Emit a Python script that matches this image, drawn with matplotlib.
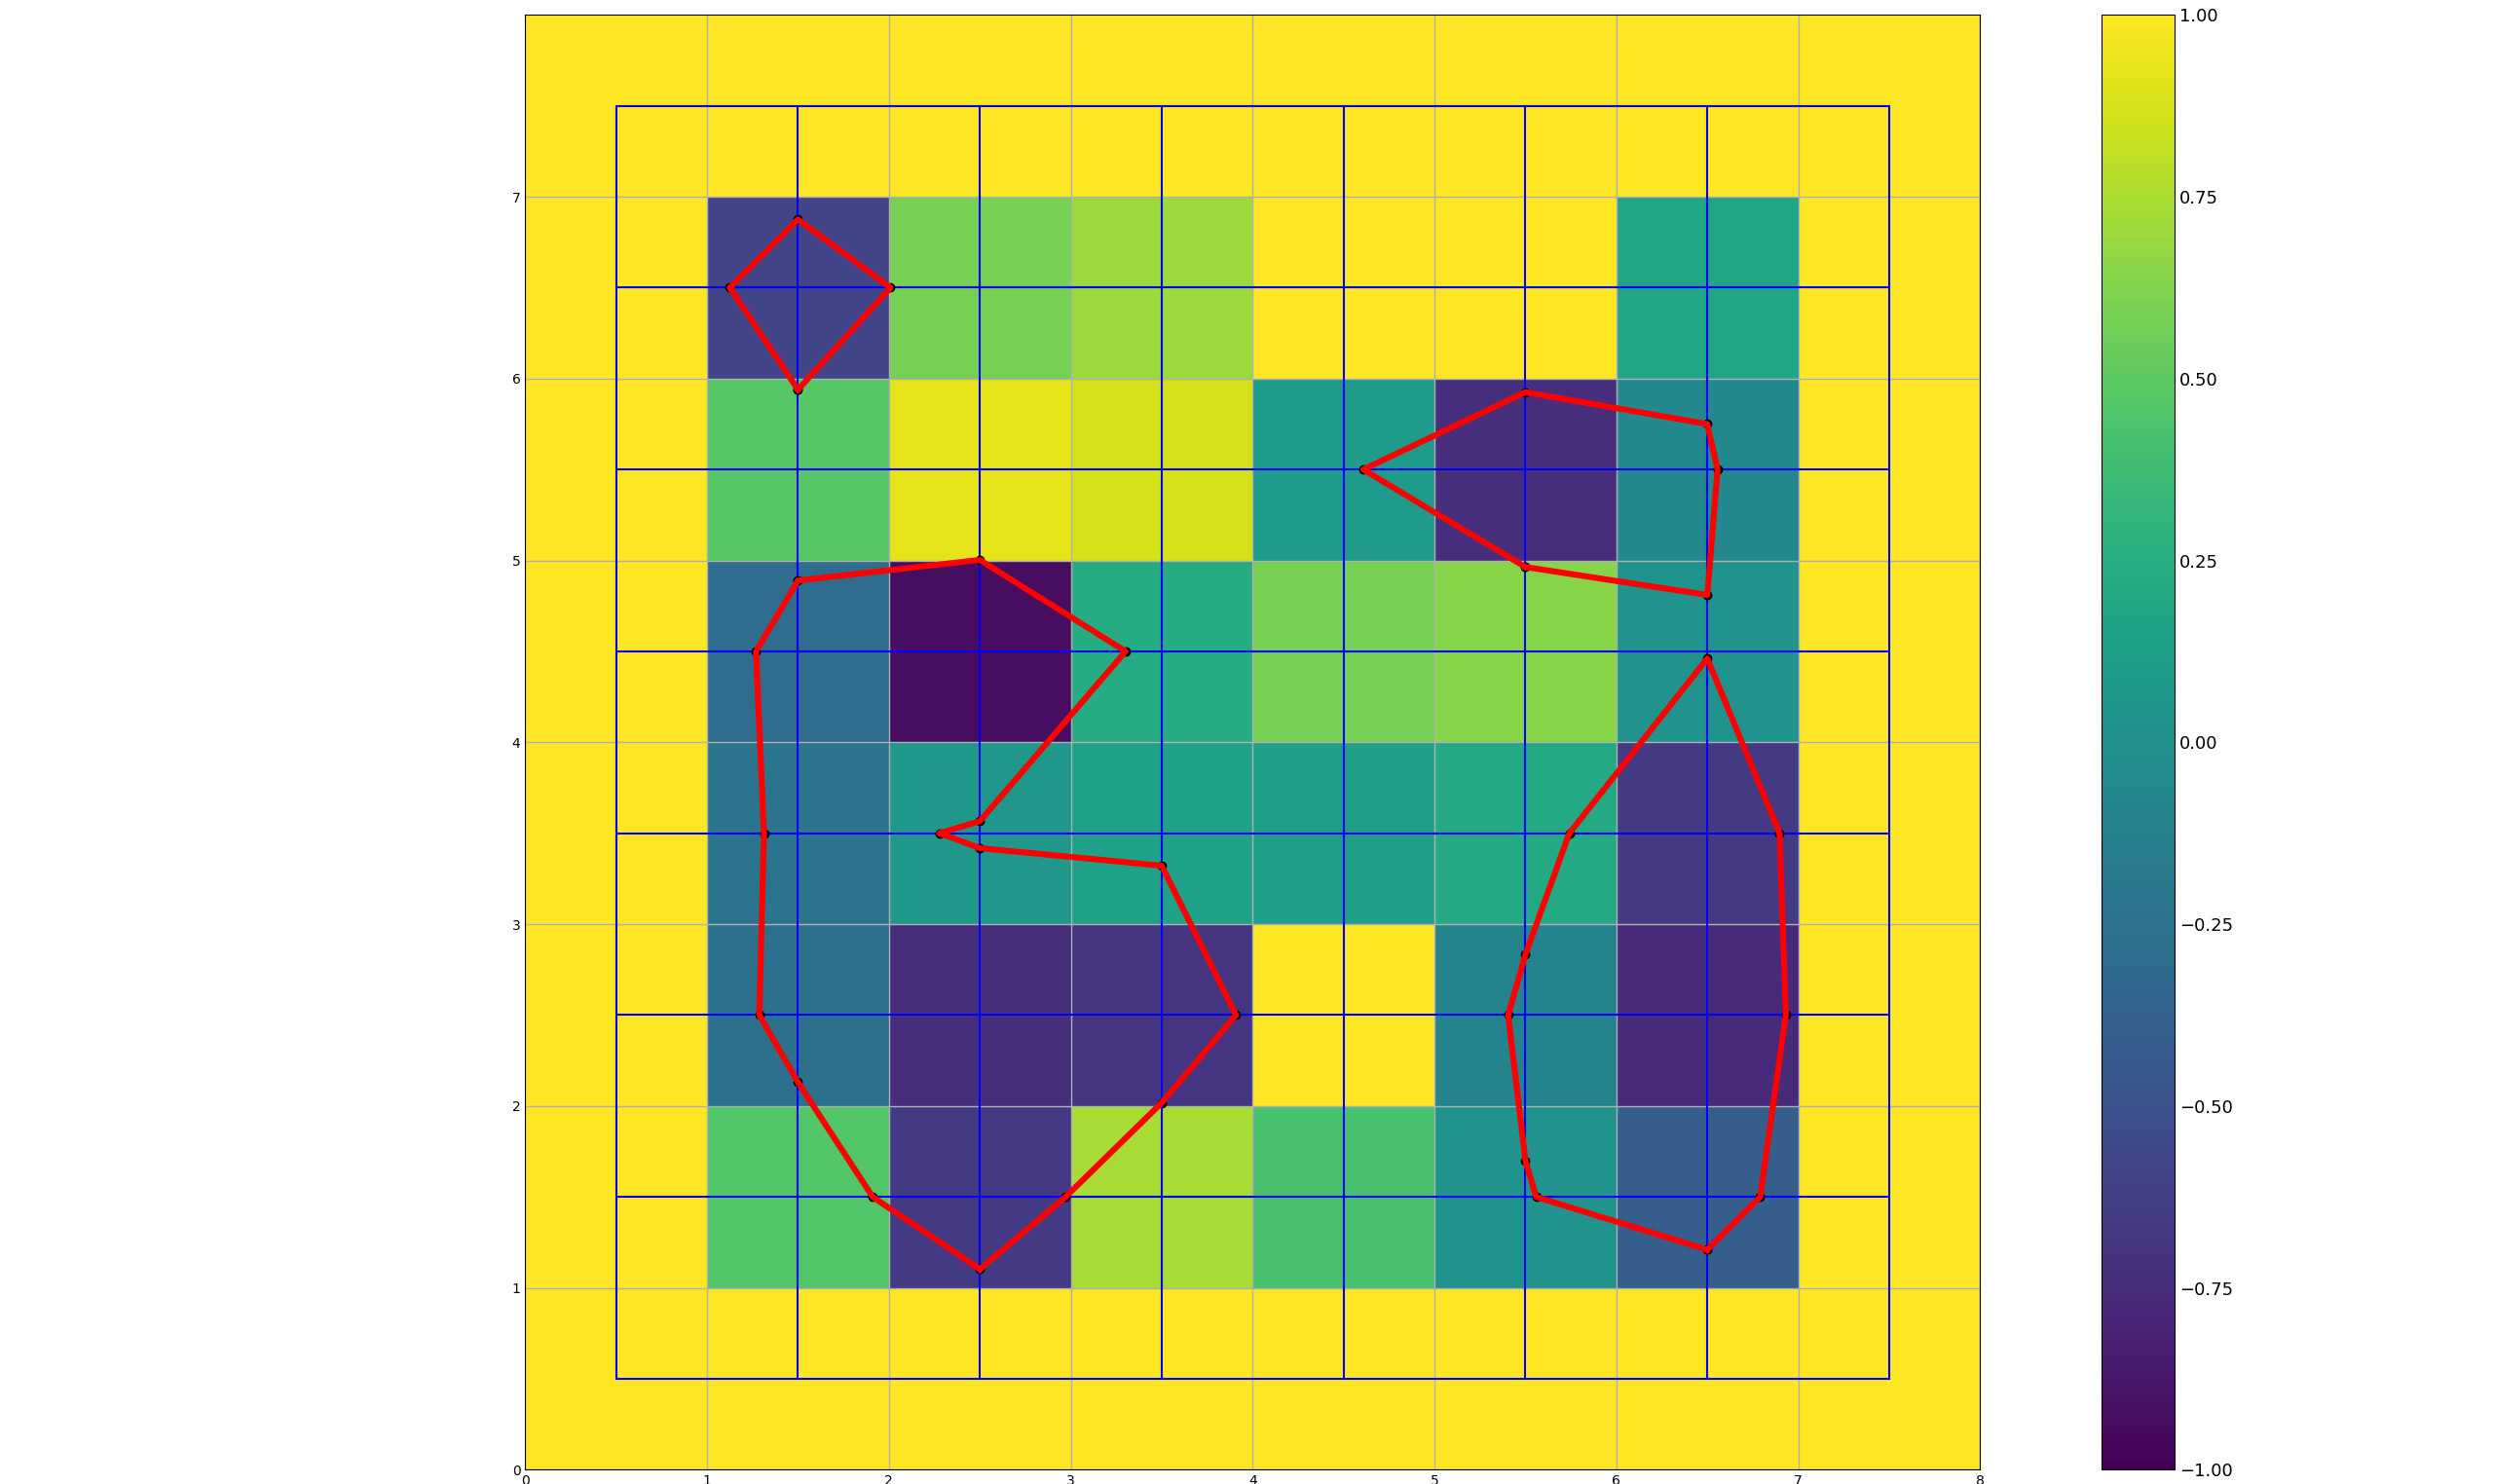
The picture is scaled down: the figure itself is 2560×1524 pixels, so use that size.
import numpy as np
import matplotlib
matplotlib.use("Agg")
import matplotlib.pyplot as plt
import contourpy

# grid values at cell centres, rows from bottom (y=0.5) to top (y=7.5)
row_0 = [1.0, 1.0, 1.0, 1.0, 1.0, 1.0, 1.0, 1.0]
row_1 = [1.0, 0.46, -0.66, 0.74, 0.42, 0.026, -0.41, 1.0]
row_2 = [1.0, -0.27, -0.74, -0.69, 1.0, -0.105, -0.76, 1.0]
row_3 = [1.0, -0.23, 0.066, 0.15, 0.12, 0.21, -0.66, 1.0]
row_4 = [1.0, -0.30, -0.93, 0.23, 0.58, 0.64, 0.027, 1.0]
row_5 = [1.0, 0.47, 0.92, 0.87, 0.09, -0.74, -0.06, 1.0]
row_6 = [1.0, -0.60, 0.58, 0.70, 1.0, 1.0, 0.18, 1.0]
row_7 = [1.0, 1.0, 1.0, 1.0, 1.0, 1.0, 1.0, 1.0]

cell_edges = [0, 1, 2, 3, 4, 5, 6, 7, 8]
centres = [0.5, 1.5, 2.5, 3.5, 4.5, 5.5, 6.5, 7.5]
x_ticks = [0, 1, 2, 3, 4, 5, 6, 7, 8]
y_ticks = [0, 1, 2, 3, 4, 5, 6, 7]
contour_level = 0.0

Z = np.array([row_0, row_1, row_2, row_3, row_4, row_5, row_6, row_7])

W, H = 2560, 1524
fig = plt.figure(figsize=(W / 100, H / 100), dpi=100)

ax = fig.add_axes([539.3 / W, (H - 1509.3) / H, 1494 / W, 1494 / H])
cax = fig.add_axes([2158.3 / W, (H - 1509.3) / H, 75 / W, 1494 / H])

mesh = ax.pcolormesh(cell_edges, cell_edges, Z, cmap="viridis", vmin=-1, vmax=1, zorder=0.5)
ax.set_xlim(0, 8)
ax.set_ylim(0, 8)
ax.set_aspect("equal")
ax.set_xticks(x_ticks)
ax.set_yticks(y_ticks)
ax.grid(True, color="#b0b0b0", linewidth=1.0)
ax.tick_params(length=0, labelsize=10)

# blue lattice through the cell centres
for c in centres:
    ax.plot([c, c], [centres[0], centres[-1]], color="blue", linewidth=1.5, zorder=3)
    ax.plot([centres[0], centres[-1]], [c, c], color="blue", linewidth=1.5, zorder=3)

# red level-0 contour through the cell centres
gen = contourpy.contour_generator(np.array(centres), np.array(centres), Z)
for seg in gen.lines(contour_level):
    ax.plot(seg[:, 0], seg[:, 1], "o", color="black", markersize=6, zorder=4)
    ax.plot(seg[:, 0], seg[:, 1], "-", color="red", linewidth=4.4, zorder=5)

cb = fig.colorbar(mesh, cax=cax)
cb.ax.tick_params(length=0, labelsize=13)

fig.savefig("out.png", dpi=100)
